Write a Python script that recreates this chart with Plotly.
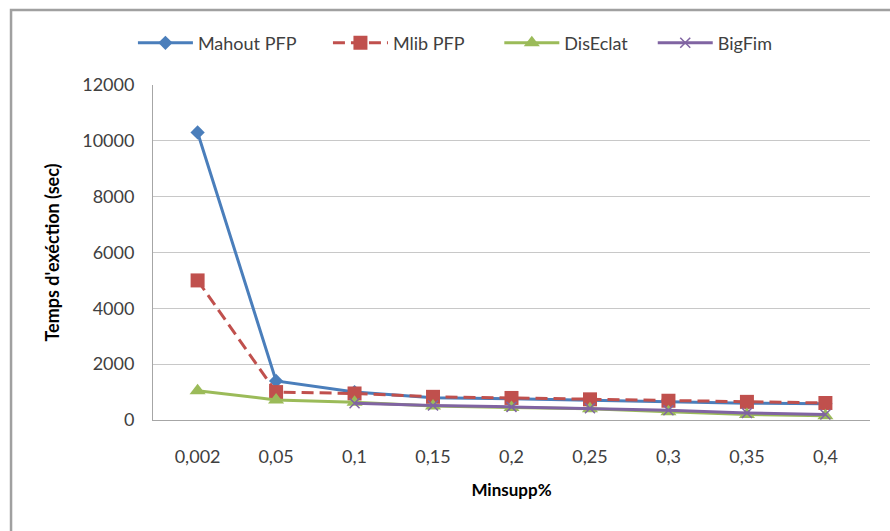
import plotly.graph_objects as go

# Minimum support thresholds (category labels)
minsupp = ["0,002", "0,05", "0,1", "0,15", "0,2", "0,25", "0,3", "0,35", "0,4"]

# Execution times in seconds
mahout_pfp = [10300, 1400, 1000, 800, 760, 700, 650, 600, 580]
mlib_pfp = [5000, 1000, 950, 830, 790, 740, 690, 650, 610]
dis_eclat = [1050, 720, 640, 500, 450, 400, 300, 200, 150]
big_fim = [None, None, 600, 520, 470, 420, 350, 250, 200]

y_ticks = [0, 2000, 4000, 6000, 8000, 10000, 12000]

font_family = "Lato, 'Open Sans', sans-serif"
text_color = "#404040"

fig = go.Figure()

fig.add_trace(go.Scatter(
    x=minsupp, y=mahout_pfp, name="Mahout PFP", mode="lines+markers",
    line=dict(color="#4A7EBB", width=3),
    marker=dict(symbol="diamond", size=11, color="#4A7EBB"),
    legend="legend",
))
fig.add_trace(go.Scatter(
    x=minsupp, y=mlib_pfp, name="Mlib PFP", mode="lines+markers",
    line=dict(color="#C0504D", width=3, dash="12px,6px"),
    marker=dict(symbol="square", size=14, color="#C0504D"),
    legend="legend2",
))
fig.add_trace(go.Scatter(
    x=minsupp, y=dis_eclat, name="DisEclat", mode="lines+markers",
    line=dict(color="#9BBB59", width=3),
    marker=dict(symbol="triangle-up", size=14, color="#9BBB59"),
    legend="legend3",
))
fig.add_trace(go.Scatter(
    x=minsupp, y=big_fim, name="BigFim", mode="lines+markers",
    line=dict(color="#8064A2", width=3),
    marker=dict(symbol="x-thin", size=10, line=dict(color="#8064A2", width=1.5)),
    legend="legend4",
))


def legend_box(x):
    return dict(
        orientation="h", x=x, xanchor="left", y=1.125, yanchor="middle",
        font=dict(size=18, color=text_color), itemwidth=55,
        bgcolor="rgba(0,0,0,0)",
    )


fig.update_layout(
    width=890, height=531,
    margin=dict(l=153, r=20, t=85, b=111),
    paper_bgcolor="white", plot_bgcolor="white",
    font=dict(family=font_family, size=18, color=text_color),
    showlegend=True,
    legend=legend_box(-0.028),
    legend2=legend_box(0.244),
    legend3=legend_box(0.483),
    legend4=legend_box(0.697),
    xaxis=dict(
        type="category", categoryorder="array", categoryarray=minsupp,
        showgrid=False, showline=True, linecolor="#A6A6A6", linewidth=1,
        ticks="", ticklabelstandoff=20,
        tickfont=dict(size=18, color=text_color),
        title=dict(text="<b>Minsupp%</b>", font=dict(size=17, color="#000000"), standoff=18),
    ),
    yaxis=dict(
        range=[0, 12000], tickvals=y_ticks, tickformat="d",
        showgrid=True, gridcolor="#C8C8C8", gridwidth=1,
        showline=True, linecolor="#A6A6A6", linewidth=1,
        zeroline=False, ticks="", ticklabelstandoff=14,
        tickfont=dict(size=18, color=text_color),
        title=dict(text="<b>Temps d'exéction (sec)</b>", font=dict(size=18, color="#000000"), standoff=17),
    ),
    shapes=[dict(
        type="rect", xref="paper", yref="paper",
        x0=-0.198, x1=1.05, y0=-0.37, y1=1.224,
        line=dict(color="#A0A0A0", width=2.5), fillcolor="rgba(0,0,0,0)", layer="below",
    )],
)

fig.write_html("out.html")
